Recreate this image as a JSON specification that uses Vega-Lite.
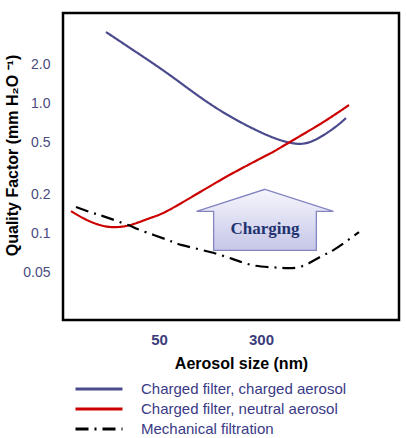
{
  "$schema": "https://vega.github.io/schema/vega-lite/v6.json",
  "width": 336,
  "height": 307,
  "autosize": {"type": "none"},
  "padding": {"left": 63, "top": 13, "right": 7, "bottom": 118},
  "background": "white",
  "config": {
    "view": {"stroke": "black", "strokeWidth": 2.5},
    "font": "Liberation Sans"
  },
  "datasets": {
    "curves": [
      {"series": "Charged filter, charged aerosol", "size": 19.7, "qf": 3.543},
      {"series": "Charged filter, charged aerosol", "size": 31.7, "qf": 2.576},
      {"series": "Charged filter, charged aerosol", "size": 57.5, "qf": 1.714},
      {"series": "Charged filter, charged aerosol", "size": 102.8, "qf": 1.121},
      {"series": "Charged filter, charged aerosol", "size": 183.6, "qf": 0.773},
      {"series": "Charged filter, charged aerosol", "size": 333.7, "qf": 0.572},
      {"series": "Charged filter, charged aerosol", "size": 499.9, "qf": 0.500},
      {"series": "Charged filter, charged aerosol", "size": 710.5, "qf": 0.506},
      {"series": "Charged filter, charged aerosol", "size": 1064, "qf": 0.640},
      {"series": "Charged filter, charged aerosol", "size": 1336, "qf": 0.773},
      {"series": "Charged filter, neutral aerosol", "size": 10.64, "qf": 0.1491},
      {"series": "Charged filter, neutral aerosol", "size": 13.61, "qf": 0.1294},
      {"series": "Charged filter, neutral aerosol", "size": 17.72, "qf": 0.1164},
      {"series": "Charged filter, neutral aerosol", "size": 22.28, "qf": 0.1123},
      {"series": "Charged filter, neutral aerosol", "size": 30.03, "qf": 0.1164},
      {"series": "Charged filter, neutral aerosol", "size": 42.68, "qf": 0.1317},
      {"series": "Charged filter, neutral aerosol", "size": 57.5, "qf": 0.1491},
      {"series": "Charged filter, neutral aerosol", "size": 102.8, "qf": 0.2087},
      {"series": "Charged filter, neutral aerosol", "size": 183.6, "qf": 0.2921},
      {"series": "Charged filter, neutral aerosol", "size": 333.7, "qf": 0.4017},
      {"series": "Charged filter, neutral aerosol", "size": 404.6, "qf": 0.4466},
      {"series": "Charged filter, neutral aerosol", "size": 595.8, "qf": 0.5621},
      {"series": "Charged filter, neutral aerosol", "size": 924, "qf": 0.7334},
      {"series": "Charged filter, neutral aerosol", "size": 1409, "qf": 0.9734},
      {"series": "Mechanical filtration", "size": 11.62, "qf": 0.160},
      {"series": "Mechanical filtration", "size": 15.68, "qf": 0.1439},
      {"series": "Mechanical filtration", "size": 18.69, "qf": 0.1364},
      {"series": "Mechanical filtration", "size": 29.0, "qf": 0.1164},
      {"series": "Mechanical filtration", "size": 35.81, "qf": 0.1066},
      {"series": "Mechanical filtration", "size": 58.56, "qf": 0.0892},
      {"series": "Mechanical filtration", "size": 74.9, "qf": 0.0817},
      {"series": "Mechanical filtration", "size": 122.5, "qf": 0.0722},
      {"series": "Mechanical filtration", "size": 183.6, "qf": 0.0637},
      {"series": "Mechanical filtration", "size": 256.3, "qf": 0.0573},
      {"series": "Mechanical filtration", "size": 351.9, "qf": 0.0553},
      {"series": "Mechanical filtration", "size": 457.8, "qf": 0.0544},
      {"series": "Mechanical filtration", "size": 617, "qf": 0.0562},
      {"series": "Mechanical filtration", "size": 847, "qf": 0.0661},
      {"series": "Mechanical filtration", "size": 1101, "qf": 0.0761},
      {"series": "Mechanical filtration", "size": 1680, "qf": 0.1028}
    ],
    "note": [
      {"size": 322, "qf": 0.108, "label": "Charging"}
    ]
  },
  "layer": [
    {
      "data": {"name": "curves"},
      "mark": {"type": "line", "interpolate": "natural", "strokeWidth": 2.2, "clip": true},
      "encoding": {
        "x": {
          "field": "size", "type": "quantitative",
          "scale": {"type": "log", "domain": [9.25, 3394], "nice": false},
          "axis": {
            "title": "Aerosol size (nm)", "values": [50, 300], "format": "d",
            "domain": false, "ticks": false, "grid": false,
            "labelFont": "Liberation Sans", "labelFontSize": 15, "labelFontWeight": "bold",
            "labelColor": "#3c3c7a", "labelPadding": 12,
            "titleFont": "Liberation Sans", "titleFontSize": 16, "titleFontWeight": "bold",
            "titleColor": "black", "titlePadding": 8, "titleX": 178
          }
        },
        "y": {
          "field": "qf", "type": "quantitative",
          "scale": {"type": "log", "domain": [0.0217, 4.96], "nice": false},
          "axis": {
            "title": "Quality Factor (mm H₂O ⁻¹)", "values": [0.05, 0.1, 0.2, 0.5, 1, 2],
            "labelExpr": "datum.value < 0.09 ? '0.05' : format(datum.value, '.1f')",
            "domain": false, "ticks": false, "grid": false,
            "labelFont": "Liberation Sans", "labelFontSize": 14,
            "labelColor": "#4a4a80", "labelPadding": 13,
            "titleFont": "Liberation Sans", "titleFontSize": 16, "titleFontWeight": "bold",
            "titleColor": "black", "titleX": -51, "titleY": 142, "titleBaseline": "middle", "titleAlign": "center", "titleAngle": -90
          }
        },
        "color": {
          "field": "series", "type": "nominal",
          "scale": {
            "domain": ["Charged filter, charged aerosol", "Charged filter, neutral aerosol", "Mechanical filtration"],
            "range": ["#4a4a8c", "#cc0000", "#000000"]
          },
          "legend": {
            "title": null, "orient": "none", "legendX": 11, "legendY": 366,
            "direction": "vertical", "symbolType": "stroke", "symbolSize": 2209,
            "symbolStrokeWidth": 3, "clipHeight": 20, "rowPadding": 0,
            "labelFont": "Liberation Sans", "labelFontSize": 15, "labelColor": "#3a3a86",
            "labelOffset": 17, "labelLimit": 400
          }
        },
        "strokeDash": {
          "field": "series", "type": "nominal",
          "scale": {
            "domain": ["Charged filter, charged aerosol", "Charged filter, neutral aerosol", "Mechanical filtration"],
            "range": [[1, 0], [1, 0], [13, 6, 2, 6]]
          },
          "legend": {
            "title": null, "orient": "none", "legendX": 11, "legendY": 366,
            "direction": "vertical", "symbolType": "stroke", "symbolSize": 2209,
            "symbolStrokeWidth": 3, "clipHeight": 20, "rowPadding": 0,
            "labelFont": "Liberation Sans", "labelFontSize": 15, "labelColor": "#3a3a86",
            "labelOffset": 17, "labelLimit": 400
          }
        }
      }
    },
    {
      "data": {"name": "note"},
      "mark": {
        "type": "point", "filled": true, "opacity": 1,
        "shape": "M0,-0.584 L1,-0.263 L0.75,-0.263 L0.75,0.307 L-0.75,0.307 L-0.75,-0.263 L-1,-0.263 Z",
        "size": 18769,
        "fill": {"gradient": "linear", "x1": 0, "y1": 0, "x2": 0, "y2": 1,
          "stops": [{"offset": 0, "color": "#f6f6fd"}, {"offset": 1, "color": "#c6c6e8"}]},
        "stroke": "#8585c2", "strokeWidth": 1.3
      },
      "encoding": {
        "x": {"field": "size", "type": "quantitative"},
        "y": {"field": "qf", "type": "quantitative"}
      }
    },
    {
      "data": {"name": "note"},
      "mark": {
        "type": "text", "font": "Liberation Serif", "fontSize": 17, "fontWeight": "bold",
        "color": "#1f3470", "baseline": "middle", "align": "center"
      },
      "encoding": {
        "x": {"field": "size", "type": "quantitative"},
        "y": {"field": "qf", "type": "quantitative"},
        "text": {"field": "label"}
      }
    }
  ]
}
